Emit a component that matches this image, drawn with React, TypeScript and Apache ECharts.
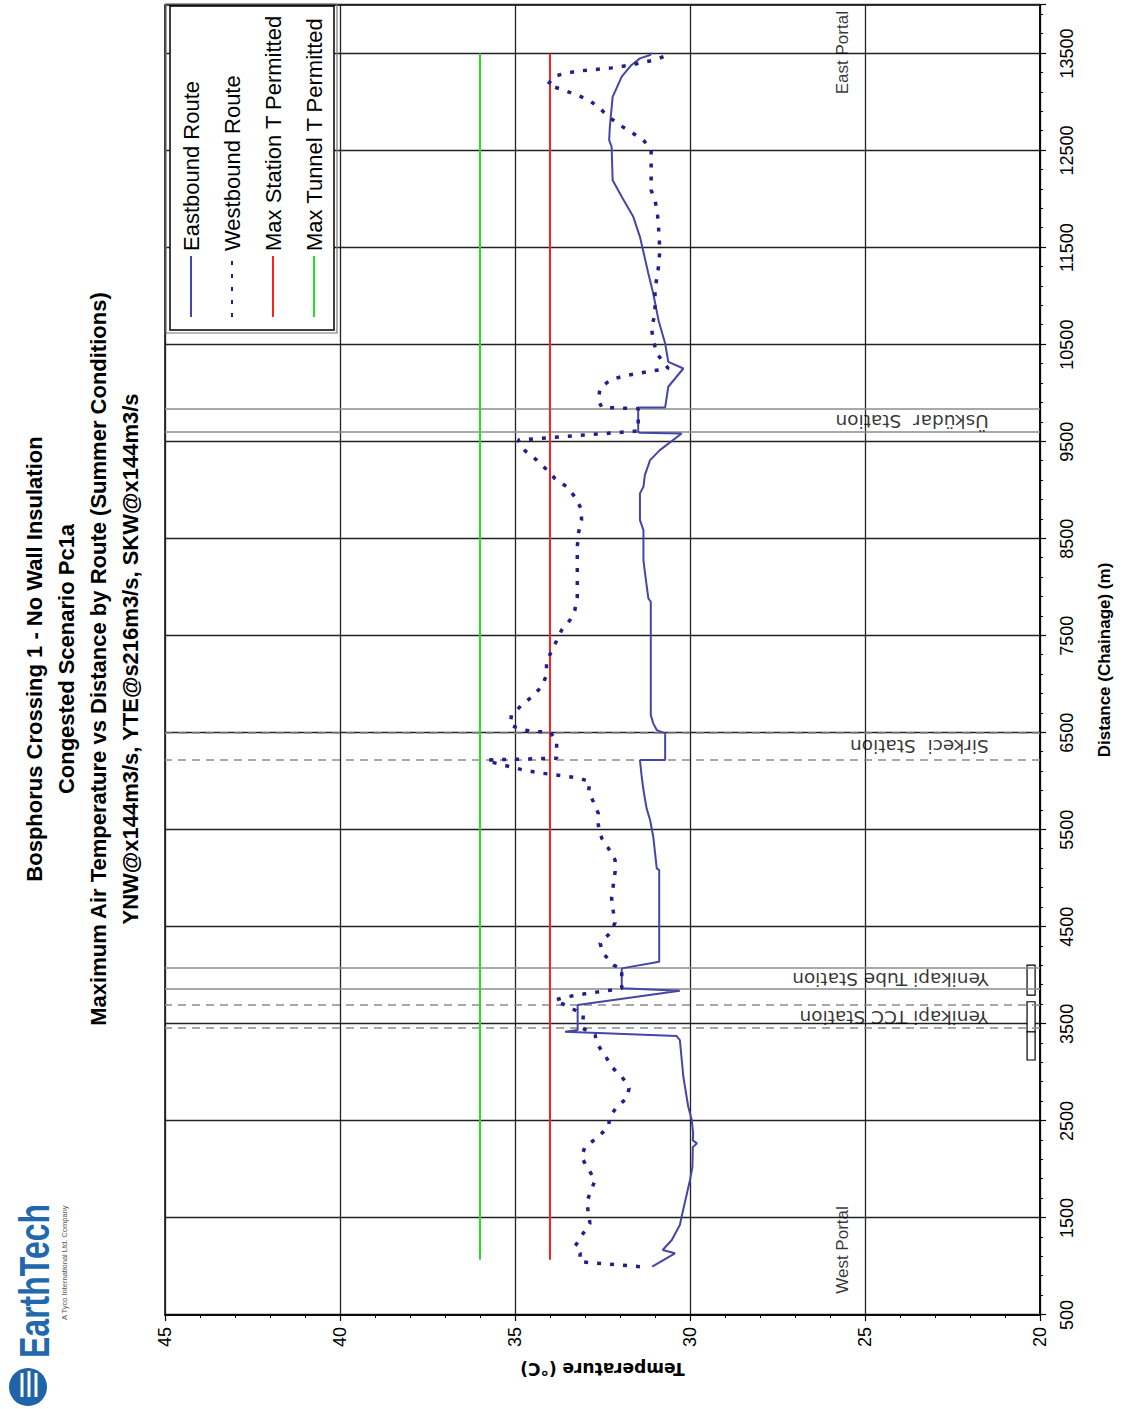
import React, { useEffect, useRef } from 'react';
import * as echarts from 'echarts';

const FONT = '"Liberation Sans", Arial, Helvetica, sans-serif';
const WIDE = '"DejaVu Sans", "Liberation Sans", sans-serif';

const titleLines = [
  'Bosphorus Crossing 1 - No Wall Insulation',
  'Congested Scenario Pc1a',
  'Maximum Air Temperature vs Distance by Route (Summer Conditions)',
  'YNW@x144m3/s, YTE@s216m3/s, SKW@x144m3/s',
];

const seriesNames = ['Eastbound Route', 'Westbound Route', 'Max Station T Permitted', 'Max Tunnel T Permitted'];

// [distance (m), temperature (°C)]
const eastbound: [number, number][] = [
  [998, 31.08], [1136, 30.43], [1170, 30.78], [1273, 30.52], [1427, 30.29], [1513, 30.24],
  [1891, 30.0], [2028, 29.93], [2230, 29.92], [2269, 29.8], [2300, 29.92], [2372, 29.91],
  [2509, 29.95], [2646, 30.05], [2955, 30.19], [3334, 30.29], [3375, 30.38], [3419, 33.57],
  [3437, 33.21], [3694, 33.21], [3842, 30.29], [3866, 31.95], [4072, 31.95], [4140, 30.88],
  [5085, 30.88], [5103, 30.95], [5429, 31.05], [5601, 31.14], [5721, 31.24], [5910, 31.33],
  [6047, 31.38], [6219, 31.43], [6219, 30.71], [6494, 30.71], [6528, 30.95], [6597, 31.05],
  [6682, 31.12], [7850, 31.12], [7885, 31.19], [8159, 31.29], [8280, 31.33], [8589, 31.33],
  [8692, 31.43], [8967, 31.43], [9035, 31.33], [9155, 31.29], [9310, 31.14], [9413, 30.86],
  [9585, 30.24], [9592, 31.43], [9600, 31.48], [9853, 31.48], [9853, 30.71], [10066, 30.62],
  [10254, 30.19], [10323, 30.62], [10512, 30.71], [10752, 30.9], [11027, 31.05], [11233, 31.19],
  [11611, 31.43], [11817, 31.62], [12023, 31.95], [12195, 32.21], [12539, 32.24], [12608, 32.31],
  [12745, 32.29], [13054, 32.21], [13261, 31.95], [13382, 31.67], [13450, 31.43], [13484, 31.14],
  [13508, 31.1],
];

const westbound: [number, number][] = [
  [998, 31.43], [1049, 33.14], [1137, 33.14], [1204, 33.29], [1342, 33.05], [1445, 32.86],
  [1668, 32.95], [1891, 32.71], [2028, 32.95], [2131, 33.1], [2234, 33.0], [2321, 32.67],
  [2440, 32.33], [2543, 32.29], [2646, 32.09], [2733, 31.81], [2836, 31.74], [2887, 31.81],
  [2955, 31.95], [3058, 32.24], [3179, 32.43], [3300, 32.67], [3385, 32.71], [3454, 33.06],
  [3600, 33.05], [3746, 33.86], [3780, 33.5], [3810, 33.0], [3849, 32.24], [3866, 31.95],
  [4072, 31.95], [4106, 32.19], [4227, 32.48], [4330, 32.57], [4433, 32.29], [4542, 32.14],
  [4656, 32.19], [4794, 32.24], [4931, 32.19], [5068, 32.14], [5188, 32.14], [5309, 32.33],
  [5412, 32.52], [5549, 32.62], [5670, 32.62], [5789, 32.76], [5892, 32.9], [5995, 32.86],
  [6030, 33.14], [6054, 33.57], [6088, 34.33], [6116, 34.76], [6150, 35.14], [6201, 35.71],
  [6219, 35.81], [6237, 34.0], [6237, 33.81], [6417, 33.81], [6510, 34.0], [6510, 34.38],
  [6528, 34.76], [6579, 35.14], [6682, 35.1], [6785, 34.81], [6871, 34.52], [6974, 34.24],
  [7094, 34.1], [7221, 34.1], [7352, 33.95], [7448, 33.81], [7558, 33.67], [7661, 33.43],
  [7764, 33.29], [7901, 33.22], [8416, 33.22], [8554, 33.19], [8692, 33.1], [8802, 33.1],
  [8932, 33.29], [9035, 33.52], [9121, 33.86], [9214, 34.1], [9310, 34.38], [9406, 34.71],
  [9516, 34.91], [9610, 31.48], [9840, 31.48], [9853, 32.52], [9928, 32.62], [10049, 32.57],
  [10134, 32.29], [10175, 31.91], [10220, 31.24], [10254, 30.62], [10409, 30.95], [10546, 31.05],
  [10667, 31.1], [10821, 31.0], [11062, 31.0], [11302, 30.9], [11474, 30.86], [11714, 30.9],
  [11852, 30.93], [11989, 31.0], [12092, 31.11], [12505, 31.11], [12608, 31.33], [12676, 31.62],
  [12762, 32.0], [12848, 32.33], [12934, 32.57], [13023, 32.9], [13085, 33.33], [13136, 33.71],
  [13178, 34.07], [13267, 33.86], [13300, 33.52], [13321, 33.14], [13335, 32.71], [13352, 32.24],
  [13380, 31.71], [13431, 31.05], [13473, 30.71],
];

const stationLimit = 34;
const tunnelLimit = 36;
const limitRange = [1070, 13500];

const stationNames = ['Yenikapi TCC Station', 'Yenikapi Tube Station', 'Sirkeci  Station', 'Üsküdar  Station'];
const stationLabelDist = [3574, 3966, 6360, 9715];
const stationLabelTemp = 21.45;
const dashedStationLines = [3454, 3690, 6219, 6500];
const solidStationLines = [3860, 4072, 9600, 9830];

const portalNames = ['West Portal', 'East Portal'];
const portalDist = [1170, 13509];
const portalTemp = 25.63;

const boxRanges = [[3128, 3419], [3419, 3728], [3797, 4106]];
const boxTemp = [20.14, 20.37];

function buildOption(): any {
  const titleY = [34, 66, 98, 130];
  return {
    animation: false,
    backgroundColor: '#fff',
    grid: { left: 94, right: 5, top: 165, bottom: 83, show: true, borderColor: '#000', borderWidth: 1.5, backgroundColor: 'transparent' },
    xAxis: {
      type: 'value', min: 500, max: 14000, interval: 1000, position: 'bottom',
      name: 'Distance (Chainage) (m)', nameLocation: 'middle', nameGap: 56,
      nameTextStyle: { fontFamily: FONT, fontSize: 17, fontWeight: 'bold', color: '#000' },
      axisLine: { show: true, onZero: false, lineStyle: { color: '#000', width: 1.5 } },
      axisTick: { show: true, inside: false, length: 6, lineStyle: { color: '#000', width: 1.2 } },
      minorTick: { show: true, splitNumber: 5, length: 3, lineStyle: { color: '#000', width: 1 } },
      splitLine: { show: true, lineStyle: { color: '#222', width: 1.3 } },
      axisLabel: { fontFamily: FONT, fontSize: 18, color: '#000', margin: 18, formatter: (v: number) => (v === 14000 ? '' : String(v)) },
    },
    yAxis: {
      type: 'value', min: 20, max: 45, interval: 5,
      name: 'Temperature (°C)', nameLocation: 'middle', nameGap: 45, nameRotate: 90,
      nameTextStyle: { fontFamily: WIDE, fontSize: 17, fontWeight: 'bold', color: '#000' },
      axisLine: { show: true, onZero: false, lineStyle: { color: '#000', width: 1.5 } },
      axisTick: { show: true, inside: false, length: 6, lineStyle: { color: '#000', width: 1.2 } },
      minorTick: { show: true, splitNumber: 5, length: 3, lineStyle: { color: '#000', width: 1 } },
      splitLine: { show: true, lineStyle: { color: '#222', width: 1.3 } },
      axisLabel: { fontFamily: FONT, fontSize: 18, color: '#000', margin: 12 },
    },
    legend: {
      data: seriesNames, orient: 'vertical', left: 1079, top: 170, padding: [10, 9, 9, 12],
      itemWidth: 61, itemHeight: 22, itemGap: 19, selectedMode: false,
      itemStyle: { opacity: 0, borderWidth: 0 },
      lineStyle: { opacity: 1 },
      textStyle: { fontFamily: FONT, fontSize: 22, color: '#000', lineHeight: 22 },
      backgroundColor: '#fff', borderColor: '#000', borderWidth: 1.5, borderRadius: 0,
    },
    graphic: [
      ...titleLines.map((t, i) => ({
        type: 'text', x: 750, y: titleY[i], silent: true,
        style: { text: t, fontFamily: FONT, fontSize: 22, fontWeight: 'bold', fill: '#000', align: 'center', verticalAlign: 'middle' },
      })),
      { type: 'rect', shape: { x: 1076, y: 166, width: 329, height: 171 }, style: { fill: 'none', stroke: '#777', lineWidth: 1.2 }, z: 1, silent: true },
      { type: 'circle', shape: { cx: 22, cy: 28, r: 19 }, style: { fill: '#1f64a8' }, silent: true },
      { type: 'line', shape: { x1: 12, y1: 22, x2: 36, y2: 22 }, style: { stroke: '#fff', lineWidth: 3 }, silent: true },
      { type: 'line', shape: { x1: 12, y1: 29, x2: 38, y2: 29 }, style: { stroke: '#fff', lineWidth: 3 }, silent: true },
      { type: 'line', shape: { x1: 12, y1: 36, x2: 36, y2: 36 }, style: { stroke: '#fff', lineWidth: 3 }, silent: true },
      {
        type: 'text', x: 51, y: 55, scaleY: 1.3, originX: 0, originY: 0, silent: true,
        style: { text: 'EarthTech', fontFamily: FONT, fontSize: 32, fontWeight: 'bold', fill: '#2268ad', align: 'left', verticalAlign: 'bottom' },
      },
      {
        type: 'text', x: 89, y: 64, silent: true,
        style: { text: 'A Tyco International Ltd. Company', fontFamily: FONT, fontSize: 7.5, fill: '#555', align: 'left', verticalAlign: 'middle' },
      },
    ],
    series: [
      {
        name: 'Max Station T Permitted', type: 'line', symbol: 'none', silent: true, z: 3,
        data: limitRange.map((d) => [d, stationLimit]),
        lineStyle: { color: '#ff2020', width: 2 }, itemStyle: { color: '#ff2020' },
        markLine: {
          silent: true, symbol: ['none', 'none'], label: { show: false }, z: 1,
          data: [
            ...dashedStationLines.map((d) => ({ xAxis: d, lineStyle: { type: [8, 6], color: '#8c8c8c', width: 1.5 } })),
            ...solidStationLines.map((d) => ({ xAxis: d, lineStyle: { type: 'solid', color: '#8c8c8c', width: 1.5 } })),
          ],
        },
      },
      {
        name: 'Max Tunnel T Permitted', type: 'line', symbol: 'none', silent: true, z: 3,
        data: limitRange.map((d) => [d, tunnelLimit]),
        lineStyle: { color: '#22e022', width: 2 }, itemStyle: { color: '#22e022' },
      },
      {
        name: 'Eastbound Route', type: 'line', symbol: 'none', silent: true, z: 4,
        data: eastbound,
        lineStyle: { color: '#4646a6', width: 2 }, itemStyle: { color: '#4646a6' },
      },
      {
        name: 'Westbound Route', type: 'line', symbol: 'none', silent: true, z: 5,
        data: westbound,
        lineStyle: { color: '#20208a', width: 3.5, type: [4, 9], cap: 'butt' }, itemStyle: { color: '#20208a' },
      },
      {
        name: 'stations', type: 'scatter', symbolSize: 1, silent: true, z: 6,
        itemStyle: { color: 'rgba(0,0,0,0)' },
        data: stationNames.map((n, i) => ({
          value: [stationLabelDist[i], stationLabelTemp],
          label: {
            show: true, formatter: n, position: [0, 0], rotate: 90, align: 'left', verticalAlign: 'middle',
            fontFamily: WIDE, fontSize: 18.5, color: '#000',
          },
        })),
        markArea: {
          silent: true,
          itemStyle: { color: '#fff', borderColor: '#000', borderWidth: 1.2 },
          data: boxRanges.map((r) => [{ xAxis: r[0], yAxis: boxTemp[0] }, { xAxis: r[1], yAxis: boxTemp[1] }]),
        },
      },
      {
        name: 'portals', type: 'scatter', symbolSize: 1, silent: true, z: 6,
        itemStyle: { color: 'rgba(0,0,0,0)' },
        data: portalNames.map((n, i) => ({
          value: [portalDist[i], portalTemp],
          label: {
            show: true, formatter: n, position: 'inside', align: 'center', verticalAlign: 'middle',
            fontFamily: FONT, fontSize: 17, color: '#000',
          },
        })),
      },
    ],
  };
}

export default function App() {
  const ref = useRef<HTMLDivElement>(null);
  useEffect(() => {
    if (!ref.current) return;
    const chart = echarts.init(ref.current, null, { renderer: 'svg', width: 1409, height: 1123 });
    chart.setOption(buildOption());
    return () => chart.dispose();
  }, []);
  return (
    <div style={{ position: 'absolute', left: 0, top: 0, width: 1123, height: 1409, overflow: 'hidden', background: '#fff' }}>
      <div
        ref={ref}
        style={{
          position: 'absolute', left: 0, top: 0, width: 1409, height: 1123,
          transformOrigin: '0 0', transform: 'translateY(1409px) rotate(-90deg)',
        }}
      />
    </div>
  );
}
